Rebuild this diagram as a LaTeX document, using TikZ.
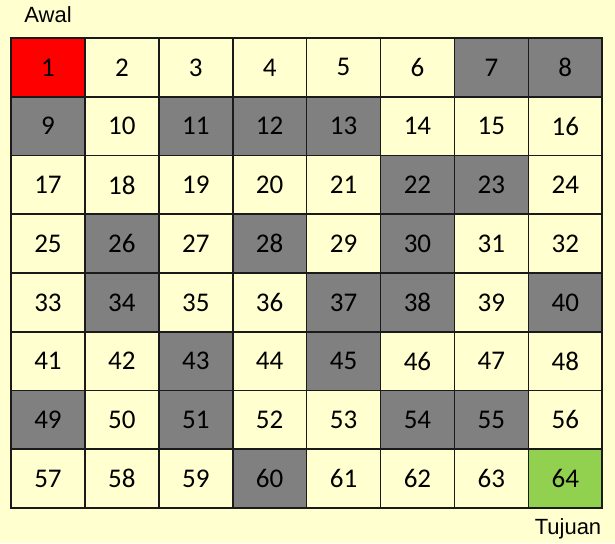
\documentclass[tikz,border=0pt]{standalone}
\usepackage{fontspec}
\setmainfont{Carlito}
\newfontfamily\arialfont{Liberation Sans}
\definecolor{latar}{HTML}{FFFFD0}
\definecolor{kuning}{HTML}{FFFFD0}
\definecolor{abu}{HTML}{808080}
\definecolor{merah}{HTML}{FF0000}
\definecolor{hijau}{HTML}{92D050}
\definecolor{garis}{HTML}{1A1A1A}

\begin{document}
\begin{tikzpicture}[x=1pt,y=-1pt,
  petak/.style={rectangle,draw=garis,line width=1.6pt,inner sep=0pt,
    minimum width=73.9pt,minimum height=58.75pt,font=\fontsize{27}{27}\selectfont},
  ket/.style={font=\arialfont\fontsize{22}{22}\selectfont,inner sep=0pt}]
\useasboundingbox[fill=latar] (0,0) rectangle (615,543);
% warna tiap petak
\foreach \n in {1,...,64} \expandafter\xdef\csname warna\n\endcsname{kuning};
\foreach \n in {7,8,9,11,12,13,22,23,26,28,30,34,37,38,40,43,45,49,51,54,55,60}
  \expandafter\xdef\csname warna\n\endcsname{abu};
\expandafter\xdef\csname warna1\endcsname{merah}
\expandafter\xdef\csname warna64\endcsname{hijau}
% papan 8x8
\foreach \n in {1,...,64}{
  \pgfmathtruncatemacro\baris{(\n-1)/8}
  \pgfmathtruncatemacro\kolom{mod(\n-1,8)}
  \edef\warna{\csname warna\n\endcsname}
  \node[petak,fill=\warna] (c\n) at ({11+73.9*(\kolom+0.5)},{38+58.75*(\baris+0.5)}) {\n};
}
\node[ket] (awal) at (48,15) {Awal};
\node[ket] (tujuan) at (568,529) {Tujuan};
\end{tikzpicture}
\end{document}
